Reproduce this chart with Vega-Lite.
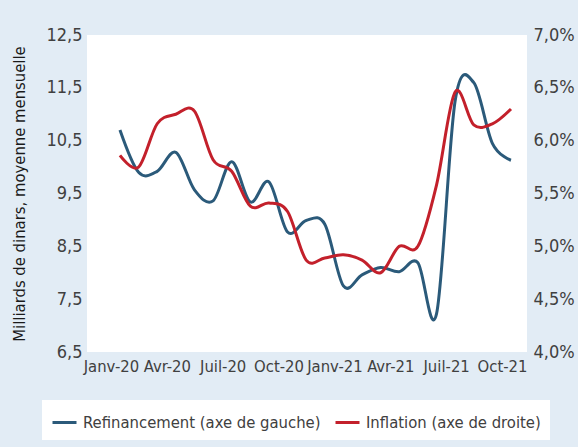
{
  "$schema": "https://vega.github.io/schema/vega-lite/v6.json",
  "autosize": {"type": "none"},
  "padding": {"left": 87, "top": 35, "right": 51, "bottom": 95},
  "width": 440,
  "height": 317,
  "background": "#e2ecf5",
  "config": {
    "view": {"fill": "white", "stroke": null},
    "font": "DejaVu Sans Condensed, Roboto, sans-serif",
    "axis": {"labelFont": "DejaVu Sans Condensed, Roboto, sans-serif", "titleFont": "DejaVu Sans Condensed, Roboto, sans-serif", "labelColor": "#404040", "labelFontSize": 18, "ticks": false, "domain": false, "grid": false, "labelOverlap": false},
    "legend": {"labelFont": "DejaVu Sans Condensed, Roboto, sans-serif"}
  },
  "datasets": {
    "refi": [
      {"i": 0, "mois": "Janv-20", "serie": "Refinancement (axe de gauche)", "v": 10.70},
      {"i": 1, "mois": "Févr-20", "serie": "Refinancement (axe de gauche)", "v": 9.90},
      {"i": 2, "mois": "Mars-20", "serie": "Refinancement (axe de gauche)", "v": 9.92},
      {"i": 3, "mois": "Avr-20", "serie": "Refinancement (axe de gauche)", "v": 10.28},
      {"i": 4, "mois": "Mai-20", "serie": "Refinancement (axe de gauche)", "v": 9.57},
      {"i": 5, "mois": "Juin-20", "serie": "Refinancement (axe de gauche)", "v": 9.36},
      {"i": 6, "mois": "Juil-20", "serie": "Refinancement (axe de gauche)", "v": 10.10},
      {"i": 7, "mois": "Août-20", "serie": "Refinancement (axe de gauche)", "v": 9.34},
      {"i": 8, "mois": "Sept-20", "serie": "Refinancement (axe de gauche)", "v": 9.72},
      {"i": 9, "mois": "Oct-20", "serie": "Refinancement (axe de gauche)", "v": 8.77},
      {"i": 10, "mois": "Nov-20", "serie": "Refinancement (axe de gauche)", "v": 8.99},
      {"i": 11, "mois": "Déc-20", "serie": "Refinancement (axe de gauche)", "v": 8.92},
      {"i": 12, "mois": "Janv-21", "serie": "Refinancement (axe de gauche)", "v": 7.75},
      {"i": 13, "mois": "Févr-21", "serie": "Refinancement (axe de gauche)", "v": 7.96},
      {"i": 14, "mois": "Mars-21", "serie": "Refinancement (axe de gauche)", "v": 8.10},
      {"i": 15, "mois": "Avr-21", "serie": "Refinancement (axe de gauche)", "v": 8.02},
      {"i": 16, "mois": "Mai-21", "serie": "Refinancement (axe de gauche)", "v": 8.19},
      {"i": 17, "mois": "Juin-21", "serie": "Refinancement (axe de gauche)", "v": 7.22},
      {"i": 18, "mois": "Juil-21", "serie": "Refinancement (axe de gauche)", "v": 11.25},
      {"i": 19, "mois": "Août-21", "serie": "Refinancement (axe de gauche)", "v": 11.6},
      {"i": 20, "mois": "Sept-21", "serie": "Refinancement (axe de gauche)", "v": 10.45},
      {"i": 21, "mois": "Oct-21", "serie": "Refinancement (axe de gauche)", "v": 10.13}
    ],
    "infl": [
      {"i": 0, "mois": "Janv-20", "serie": "Inflation (axe de droite)", "v": 5.86},
      {"i": 1, "mois": "Févr-20", "serie": "Inflation (axe de droite)", "v": 5.75},
      {"i": 2, "mois": "Mars-20", "serie": "Inflation (axe de droite)", "v": 6.16},
      {"i": 3, "mois": "Avr-20", "serie": "Inflation (axe de droite)", "v": 6.25},
      {"i": 4, "mois": "Mai-20", "serie": "Inflation (axe de droite)", "v": 6.28},
      {"i": 5, "mois": "Juin-20", "serie": "Inflation (axe de droite)", "v": 5.82},
      {"i": 6, "mois": "Juil-20", "serie": "Inflation (axe de droite)", "v": 5.71},
      {"i": 7, "mois": "Août-20", "serie": "Inflation (axe de droite)", "v": 5.38},
      {"i": 8, "mois": "Sept-20", "serie": "Inflation (axe de droite)", "v": 5.41},
      {"i": 9, "mois": "Oct-20", "serie": "Inflation (axe de droite)", "v": 5.33},
      {"i": 10, "mois": "Nov-20", "serie": "Inflation (axe de droite)", "v": 4.87},
      {"i": 11, "mois": "Déc-20", "serie": "Inflation (axe de droite)", "v": 4.89},
      {"i": 12, "mois": "Janv-21", "serie": "Inflation (axe de droite)", "v": 4.92},
      {"i": 13, "mois": "Févr-21", "serie": "Inflation (axe de droite)", "v": 4.87},
      {"i": 14, "mois": "Mars-21", "serie": "Inflation (axe de droite)", "v": 4.75},
      {"i": 15, "mois": "Avr-21", "serie": "Inflation (axe de droite)", "v": 5.00},
      {"i": 16, "mois": "Mai-21", "serie": "Inflation (axe de droite)", "v": 5.00},
      {"i": 17, "mois": "Juin-21", "serie": "Inflation (axe de droite)", "v": 5.58},
      {"i": 18, "mois": "Juil-21", "serie": "Inflation (axe de droite)", "v": 6.46},
      {"i": 19, "mois": "Août-21", "serie": "Inflation (axe de droite)", "v": 6.15},
      {"i": 20, "mois": "Sept-21", "serie": "Inflation (axe de droite)", "v": 6.16},
      {"i": 21, "mois": "Oct-21", "serie": "Inflation (axe de droite)", "v": 6.30}
    ]
  },
  "encoding": {
    "x": {
      "field": "i", "type": "quantitative",
      "scale": {"domain": [-1.77, 21.86], "nice": false, "zero": false},
      "axis": {
        "title": null,
        "values": [0, 3, 6, 9, 12, 15, 18, 21],
        "labelExpr": "['Janv-20','Avr-20','Juil-20','Oct-20','Janv-21','Avr-21','Juil-21','Oct-21'][round(datum.value/3)]",
        "labelFlush": false,
        "labelFontSize": 16.5,
        "labelPadding": 6,
        "labelOffset": -9
      }
    },
    "color": {
      "field": "serie", "type": "nominal",
      "scale": {"domain": ["Refinancement (axe de gauche)", "Inflation (axe de droite)"], "range": ["#2b5a7a", "#c3202b"]},
      "legend": {
        "title": null,
        "orient": "none",
        "legendX": -45,
        "legendY": 365,
        "direction": "horizontal",
        "fillColor": "white",
        "padding": 9,
        "symbolType": "stroke",
        "symbolSize": 576,
        "symbolStrokeWidth": 3,
        "labelFontSize": 16.5,
        "labelLimit": 400,
        "labelColor": "#404040",
        "labelOffset": 5,
        "columnPadding": 8
      }
    }
  },
  "layer": [
    {
      "data": {"name": "refi"},
      "mark": {"type": "line", "interpolate": "cardinal", "strokeWidth": 3},
      "encoding": {
        "y": {
          "field": "v", "type": "quantitative",
          "scale": {"domain": [6.5, 12.5], "nice": false, "zero": false},
          "axis": {
            "orient": "left",
            "values": [6.5, 7.5, 8.5, 9.5, 10.5, 11.5, 12.5],
            "labelExpr": "replace(format(datum.value, '.1f'), '.', ',')",
            "labelPadding": 5,
            "title": "Milliards de dinars, moyenne mensuelle",
            "titleFontSize": 16.5,
            "titleFontWeight": "normal",
            "titleColor": "#1a1a1a",
            "titlePadding": 18
          }
        }
      }
    },
    {
      "data": {"name": "infl"},
      "mark": {"type": "line", "interpolate": "cardinal", "strokeWidth": 3},
      "encoding": {
        "y": {
          "field": "v", "type": "quantitative",
          "scale": {"domain": [4, 7], "nice": false, "zero": false},
          "axis": {
            "orient": "right",
            "values": [4, 4.5, 5, 5.5, 6, 6.5, 7],
            "labelExpr": "replace(format(datum.value, '.1f'), '.', ',') + '%'",
            "labelPadding": 6,
            "title": null
          }
        }
      }
    }
  ],
  "resolve": {"scale": {"y": "independent"}}
}
